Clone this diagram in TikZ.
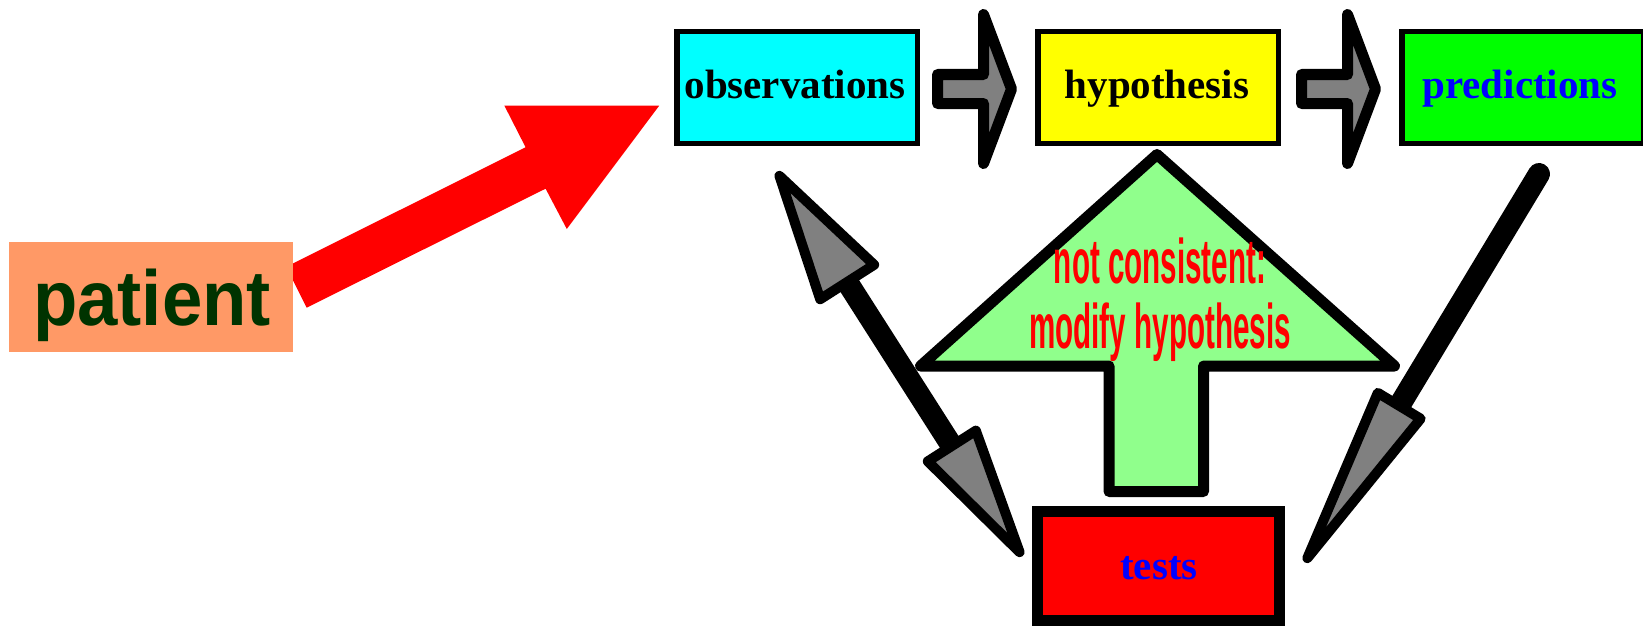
\documentclass[tikz,border=0pt]{standalone}
\usepackage{fontspec}
\usetikzlibrary{calc}
\setmainfont{Liberation Serif}
\newfontfamily\patientfont[FakeStretch=0.93]{Liberation Sans}
\newfontfamily\notefont[FakeStretch=0.47]{Liberation Sans}
\definecolor{salmon}{RGB}{255,153,102}
\definecolor{darkgreen}{RGB}{0,51,0}
\definecolor{palegreen}{RGB}{144,255,140}
\definecolor{arrowgrey}{RGB}{128,128,128}
\definecolor{boxcyan}{RGB}{0,255,255}
\definecolor{boxyellow}{RGB}{255,255,0}
\definecolor{boxgreen}{RGB}{0,255,0}
\definecolor{boxred}{RGB}{255,0,0}
\definecolor{textblue}{RGB}{0,0,255}

\begin{document}
\begin{tikzpicture}[x=1pt,y=-1pt,
  framebox/.style={draw=black, line width=5.5pt, inner sep=0pt},
  boxtext/.style={font=\fontsize{41}{41}\selectfont\bfseries, anchor=base, inner sep=0pt},
  notetext/.style={font=\notefont\bfseries\fontsize{63}{63}\selectfont, text=boxred, anchor=base, inner sep=0pt},
  blockarrow/.style={fill=arrowgrey, draw=black, line width=11pt, line join=round},
  headtip/.style={fill=arrowgrey, draw=black, line width=10pt, line join=round},
  shaft/.style={draw=black, line cap=round},
]
\useasboundingbox (0,0) rectangle (1643,626);

% red arrow from the patient to the observations
\fill[boxred] (286.2,266.8) -- (525.6,147.3) -- (504.4,105.7) -- (659.2,105.7)
  -- (566.8,229) -- (545.6,188.7) -- (306.6,307.7) -- cycle;

% patient
\node (patient) [fill=salmon, minimum width=284pt, minimum height=110pt, inner sep=0pt] at (151,297) {};
\node (patienttext) [font=\patientfont\bfseries\fontsize{78}{78}\selectfont, text=darkgreen, anchor=base, inner sep=0pt]
  at (152,325) {patient};

% top row of boxes
\node (obs)  [framebox, fill=boxcyan,   minimum width=240.5pt, minimum height=111.5pt] at (797,87.5) {};
\node (hyp)  [framebox, fill=boxyellow, minimum width=240.5pt, minimum height=111.5pt] at (1158,87.5) {};
\node (pred) [framebox, fill=boxgreen,  minimum width=241.5pt, minimum height=111.5pt] at (1522.5,87.5) {};
\node (obstext)  [boxtext] at (795,99) {observations};
\node (hyptext)  [boxtext] at (1157,99) {hypothesis};
\node (predtext) [boxtext, text=textblue] at (1520,99) {predictions};

% grey block arrows between the boxes
\draw[blockarrow] (937.5,74.5) -- (983.5,74.5) -- (983.5,14.5) -- (1011.5,89)
  -- (983.5,163.5) -- (983.5,103.5) -- (937.5,103.5) -- cycle;
\begin{scope}[xshift=364pt]
\draw[blockarrow] (937.5,74.5) -- (983.5,74.5) -- (983.5,14.5) -- (1011.5,89)
  -- (983.5,163.5) -- (983.5,103.5) -- (937.5,103.5) -- cycle;
\end{scope}

% green feedback arrow
\draw[fill=palegreen, draw=black, line width=11pt, line join=round]
  (1157,154.5) -- (1394.5,366) -- (1203.5,366) -- (1203.5,491.5)
  -- (1109,491.5) -- (1109,366) -- (920.5,366) -- cycle;
\node (note1) [notetext] at (1160,283) {not consistent:};
\node (note2) [notetext] at (1160,348) {modify hypothesis};

% double arrow between observations and tests
\coordinate (la) at (779.4,175.8);
\coordinate (lb) at (1019.6,552.2);
\coordinate (lab) at ($(la)!126pt!(lb)$);
\coordinate (lbb) at ($(lb)!126pt!(la)$);
\draw[shaft, line width=22pt] (lab) -- (lbb);
\draw[headtip] (la) -- ($(lab)!32pt!90:(lb)$) -- ($(lab)!32pt!-90:(lb)$) -- cycle;
\draw[headtip] (lb) -- ($(lbb)!28.5pt!90:(la)$) -- ($(lbb)!28.5pt!-90:(la)$) -- cycle;

% arrow from predictions to tests
\coordinate (ra) at (1307.3,558.2);
\coordinate (re) at (1539,174);
\coordinate (rab) at ($(ra)!178pt!(re)$);
\draw[shaft, line width=22pt] ($(ra)!165pt!(re)$) -- (re);
\draw[headtip] (ra) -- ($(rab)!25pt!90:(re)$) -- ($(rab)!25pt!-90:(re)$) -- cycle;

% tests
\node (tests) [draw=black, line width=11pt, fill=boxred, minimum width=242pt, minimum height=109pt, inner sep=0pt] at (1158.5,566) {};
\node (teststext) [boxtext, text=textblue] at (1159,579) {tests};
\end{tikzpicture}
\end{document}
